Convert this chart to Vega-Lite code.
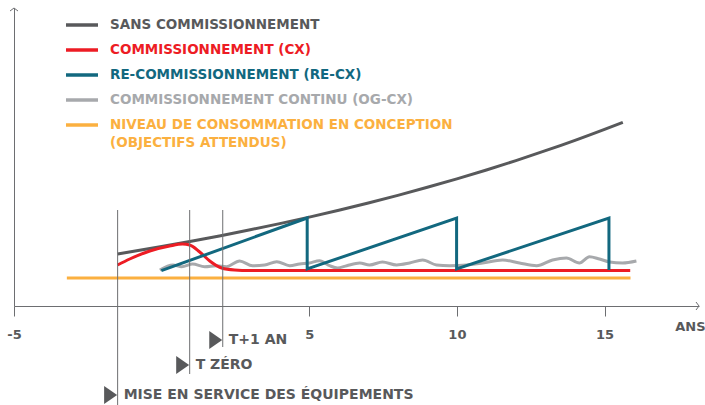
{
  "$schema": "https://vega.github.io/schema/vega-lite/v6.json",
  "width": 685,
  "height": 298,
  "autosize": {"type": "none"},
  "padding": {"left": 14, "top": 8, "right": 6, "bottom": 99},
  "background": "white",
  "config": {"view": {"stroke": null}, "font": "DejaVu Sans"},
  "datasets": {
    "series": [
      {"s": "NIVEAU DE CONSOMMATION EN CONCEPTION (OBJECTIFS ATTENDUS)", "i": 0, "x": -3.21, "y": 28},
      {"s": "NIVEAU DE CONSOMMATION EN CONCEPTION (OBJECTIFS ATTENDUS)", "i": 1, "x": 15.88, "y": 28},
      {"s": "SANS COMMISSIONNEMENT", "i": 0, "x": -1.49, "y": 52},
      {"s": "SANS COMMISSIONNEMENT", "i": 1, "x": 0, "y": 59.4},
      {"s": "SANS COMMISSIONNEMENT", "i": 2, "x": 1, "y": 64.7},
      {"s": "SANS COMMISSIONNEMENT", "i": 3, "x": 2, "y": 70.3},
      {"s": "SANS COMMISSIONNEMENT", "i": 4, "x": 3, "y": 76.2},
      {"s": "SANS COMMISSIONNEMENT", "i": 5, "x": 4, "y": 82.4},
      {"s": "SANS COMMISSIONNEMENT", "i": 6, "x": 5, "y": 88.9},
      {"s": "SANS COMMISSIONNEMENT", "i": 7, "x": 6, "y": 95.8},
      {"s": "SANS COMMISSIONNEMENT", "i": 8, "x": 7, "y": 103.0},
      {"s": "SANS COMMISSIONNEMENT", "i": 9, "x": 8, "y": 110.6},
      {"s": "SANS COMMISSIONNEMENT", "i": 10, "x": 9, "y": 118.7},
      {"s": "SANS COMMISSIONNEMENT", "i": 11, "x": 10, "y": 127.1},
      {"s": "SANS COMMISSIONNEMENT", "i": 12, "x": 11, "y": 136.0},
      {"s": "SANS COMMISSIONNEMENT", "i": 13, "x": 12, "y": 145.4},
      {"s": "SANS COMMISSIONNEMENT", "i": 14, "x": 13, "y": 155.3},
      {"s": "SANS COMMISSIONNEMENT", "i": 15, "x": 14, "y": 165.7},
      {"s": "SANS COMMISSIONNEMENT", "i": 16, "x": 15, "y": 176.7},
      {"s": "SANS COMMISSIONNEMENT", "i": 17, "x": 15.62, "y": 183.7},
      {"s": "COMMISSIONNEMENT CONTINU (OG-CX)", "i": 0, "x": -0.06, "y": 36},
      {"s": "COMMISSIONNEMENT CONTINU (OG-CX)", "i": 1, "x": 0.38, "y": 41},
      {"s": "COMMISSIONNEMENT CONTINU (OG-CX)", "i": 2, "x": 0.68, "y": 39.3},
      {"s": "COMMISSIONNEMENT CONTINU (OG-CX)", "i": 3, "x": 1.05, "y": 42},
      {"s": "COMMISSIONNEMENT CONTINU (OG-CX)", "i": 4, "x": 1.46, "y": 39.3},
      {"s": "COMMISSIONNEMENT CONTINU (OG-CX)", "i": 5, "x": 1.87, "y": 40.3},
      {"s": "COMMISSIONNEMENT CONTINU (OG-CX)", "i": 6, "x": 2.2, "y": 39.3},
      {"s": "COMMISSIONNEMENT CONTINU (OG-CX)", "i": 7, "x": 2.64, "y": 45},
      {"s": "COMMISSIONNEMENT CONTINU (OG-CX)", "i": 8, "x": 3.08, "y": 40.3},
      {"s": "COMMISSIONNEMENT CONTINU (OG-CX)", "i": 9, "x": 3.49, "y": 41},
      {"s": "COMMISSIONNEMENT CONTINU (OG-CX)", "i": 10, "x": 3.9, "y": 44.3},
      {"s": "COMMISSIONNEMENT CONTINU (OG-CX)", "i": 11, "x": 4.34, "y": 40.3},
      {"s": "COMMISSIONNEMENT CONTINU (OG-CX)", "i": 12, "x": 4.67, "y": 42},
      {"s": "COMMISSIONNEMENT CONTINU (OG-CX)", "i": 13, "x": 5.01, "y": 43},
      {"s": "COMMISSIONNEMENT CONTINU (OG-CX)", "i": 14, "x": 5.35, "y": 45.3},
      {"s": "COMMISSIONNEMENT CONTINU (OG-CX)", "i": 15, "x": 5.69, "y": 40.3},
      {"s": "COMMISSIONNEMENT CONTINU (OG-CX)", "i": 16, "x": 5.96, "y": 38},
      {"s": "COMMISSIONNEMENT CONTINU (OG-CX)", "i": 17, "x": 6.27, "y": 40.3},
      {"s": "COMMISSIONNEMENT CONTINU (OG-CX)", "i": 18, "x": 6.71, "y": 43},
      {"s": "COMMISSIONNEMENT CONTINU (OG-CX)", "i": 19, "x": 7.04, "y": 41},
      {"s": "COMMISSIONNEMENT CONTINU (OG-CX)", "i": 20, "x": 7.48, "y": 44},
      {"s": "COMMISSIONNEMENT CONTINU (OG-CX)", "i": 21, "x": 7.96, "y": 41},
      {"s": "COMMISSIONNEMENT CONTINU (OG-CX)", "i": 22, "x": 8.4, "y": 43},
      {"s": "COMMISSIONNEMENT CONTINU (OG-CX)", "i": 23, "x": 8.84, "y": 46},
      {"s": "COMMISSIONNEMENT CONTINU (OG-CX)", "i": 24, "x": 9.31, "y": 41},
      {"s": "COMMISSIONNEMENT CONTINU (OG-CX)", "i": 25, "x": 9.75, "y": 40.3},
      {"s": "COMMISSIONNEMENT CONTINU (OG-CX)", "i": 26, "x": 10.33, "y": 41},
      {"s": "COMMISSIONNEMENT CONTINU (OG-CX)", "i": 27, "x": 10.87, "y": 43},
      {"s": "COMMISSIONNEMENT CONTINU (OG-CX)", "i": 28, "x": 11.55, "y": 46},
      {"s": "COMMISSIONNEMENT CONTINU (OG-CX)", "i": 29, "x": 12.12, "y": 43},
      {"s": "COMMISSIONNEMENT CONTINU (OG-CX)", "i": 30, "x": 12.7, "y": 40.3},
      {"s": "COMMISSIONNEMENT CONTINU (OG-CX)", "i": 31, "x": 13.24, "y": 46},
      {"s": "COMMISSIONNEMENT CONTINU (OG-CX)", "i": 32, "x": 13.71, "y": 48},
      {"s": "COMMISSIONNEMENT CONTINU (OG-CX)", "i": 33, "x": 14.15, "y": 43},
      {"s": "COMMISSIONNEMENT CONTINU (OG-CX)", "i": 34, "x": 14.49, "y": 49.3},
      {"s": "COMMISSIONNEMENT CONTINU (OG-CX)", "i": 35, "x": 14.83, "y": 47},
      {"s": "COMMISSIONNEMENT CONTINU (OG-CX)", "i": 36, "x": 15.17, "y": 44},
      {"s": "COMMISSIONNEMENT CONTINU (OG-CX)", "i": 37, "x": 15.61, "y": 43},
      {"s": "COMMISSIONNEMENT CONTINU (OG-CX)", "i": 38, "x": 16.08, "y": 45},
      {"s": "COMMISSIONNEMENT (CX)", "i": 0, "x": -1.49, "y": 41},
      {"s": "COMMISSIONNEMENT (CX)", "i": 1, "x": -1.08, "y": 47},
      {"s": "COMMISSIONNEMENT (CX)", "i": 2, "x": -0.4, "y": 55},
      {"s": "COMMISSIONNEMENT (CX)", "i": 3, "x": 0.27, "y": 60},
      {"s": "COMMISSIONNEMENT (CX)", "i": 4, "x": 0.71, "y": 62},
      {"s": "COMMISSIONNEMENT (CX)", "i": 5, "x": 0.95, "y": 61},
      {"s": "COMMISSIONNEMENT (CX)", "i": 6, "x": 1.29, "y": 54},
      {"s": "COMMISSIONNEMENT (CX)", "i": 7, "x": 1.63, "y": 45},
      {"s": "COMMISSIONNEMENT (CX)", "i": 8, "x": 2.03, "y": 38},
      {"s": "COMMISSIONNEMENT (CX)", "i": 9, "x": 2.47, "y": 36},
      {"s": "COMMISSIONNEMENT (CX)", "i": 10, "x": 2.98, "y": 35.5},
      {"s": "COMMISSIONNEMENT (CX)", "i": 11, "x": 15.87, "y": 35.5}
    ],
    "recx": [
      {"s": "RE-COMMISSIONNEMENT (RE-CX)", "i": 0, "x": -0.01, "y": 35.3},
      {"s": "RE-COMMISSIONNEMENT (RE-CX)", "i": 1, "x": 4.93, "y": 88},
      {"s": "RE-COMMISSIONNEMENT (RE-CX)", "i": 2, "x": 4.93, "y": 37},
      {"s": "RE-COMMISSIONNEMENT (RE-CX)", "i": 3, "x": 9.99, "y": 88},
      {"s": "RE-COMMISSIONNEMENT (RE-CX)", "i": 4, "x": 9.99, "y": 37},
      {"s": "RE-COMMISSIONNEMENT (RE-CX)", "i": 5, "x": 15.15, "y": 88},
      {"s": "RE-COMMISSIONNEMENT (RE-CX)", "i": 6, "x": 15.15, "y": 36}
    ],
    "events": [
      {"e": "MISE EN SERVICE DES ÉQUIPEMENTS", "x": -1.49, "top": 96, "bottom": -100, "ly": -89},
      {"e": "T ZÉRO", "x": 0.95, "top": 96, "bottom": -68, "ly": -59},
      {"e": "T+1 AN", "x": 2.07, "top": 96, "bottom": -41, "ly": -34}
    ]
  },
  "layer": [
    {
      "data": {"name": "series"},
      "mark": {"type": "line", "interpolate": "monotone", "strokeWidth": 3, "strokeCap": "butt"},
      "encoding": {
        "x": {
          "field": "x", "type": "quantitative",
          "scale": {"domain": [-5, 18.2], "nice": false, "zero": false},
          "axis": {
            "values": [-5, 5, 10, 15], "grid": false,
            "labelExpr": "replace(datum.label, '\u2212', '-')",
            "domainColor": "#6d6e71", "domainWidth": 1,
            "tickColor": "#6d6e71", "tickSize": 10, "tickWidth": 1,
            "labelFont": "DejaVu Sans", "labelFontSize": 13, "labelFontWeight": "bold",
            "labelColor": "#58595b", "labelPadding": 12, "labelFlush": false,
            "title": "ANS", "titleX": 691, "titleY": 20, "titleAlign": "right",
            "titleBaseline": "middle", "titleFont": "DejaVu Sans", "titleFontSize": 13,
            "titleFontWeight": "bold", "titleColor": "#58595b"
          }
        },
        "y": {
          "field": "y", "type": "quantitative",
          "scale": {"domain": [0, 298], "nice": false, "zero": false},
          "axis": {"grid": false, "ticks": false, "labels": false, "title": null, "domainColor": "#6d6e71", "domainWidth": 1}
        },
        "color": {
          "field": "s", "type": "nominal",
          "scale": {
            "domain": ["SANS COMMISSIONNEMENT", "COMMISSIONNEMENT (CX)", "RE-COMMISSIONNEMENT (RE-CX)", "COMMISSIONNEMENT CONTINU (OG-CX)", "NIVEAU DE CONSOMMATION EN CONCEPTION (OBJECTIFS ATTENDUS)"],
            "range": ["#58595b", "#ed1c24", "#12687f", "#a7a9ac", "#fbb040"]
          },
          "legend": {
            "orient": "none", "legendX": 50, "legendY": -1, "title": null,
            "symbolType": "stroke", "symbolSize": 1024, "symbolStrokeWidth": 3.5,
            "labelFont": "DejaVu Sans", "labelFontSize": 13.5, "labelFontWeight": "bold",
            "labelOffset": 10, "labelLimit": 600, "rowPadding": 0,
            "labelExpr": "datum.label == 'NIVEAU DE CONSOMMATION EN CONCEPTION (OBJECTIFS ATTENDUS)' ? ['NIVEAU DE CONSOMMATION EN CONCEPTION', '(OBJECTIFS ATTENDUS)'] : datum.label",
            "encode": {"labels": {"update": {"fill": {"signal": "scale('color', datum.value)"}, "lineHeight": {"value": 18}}}}
          }
        },
        "order": {"field": "i", "type": "quantitative"}
      }
    },
    {
      "data": {"name": "recx"},
      "mark": {"type": "line", "strokeWidth": 3, "strokeJoin": "miter"},
      "encoding": {
        "x": {"field": "x", "type": "quantitative"},
        "y": {"field": "y", "type": "quantitative"},
        "color": {"field": "s", "type": "nominal"},
        "order": {"field": "i", "type": "quantitative"}
      }
    },
    {
      "data": {"name": "events"},
      "mark": {"type": "rule", "color": "#6d6e71", "strokeWidth": 1},
      "encoding": {
        "x": {"field": "x", "type": "quantitative"},
        "y": {"field": "top", "type": "quantitative"},
        "y2": {"field": "bottom"}
      }
    },
    {
      "data": {"name": "events"},
      "mark": {"type": "point", "shape": "M-0.72,-1L0.72,0L-0.72,1Z", "size": 324, "filled": true, "color": "#58595b", "opacity": 1, "xOffset": -7},
      "encoding": {
        "x": {"field": "x", "type": "quantitative"},
        "y": {"field": "ly", "type": "quantitative"}
      }
    },
    {
      "data": {"name": "events"},
      "mark": {"type": "text", "align": "left", "baseline": "middle", "dx": 6, "font": "DejaVu Sans", "fontSize": 14, "fontWeight": "bold", "color": "#58595b"},
      "encoding": {
        "x": {"field": "x", "type": "quantitative"},
        "y": {"field": "ly", "type": "quantitative"},
        "text": {"field": "e"}
      }
    },
    {
      "data": {"values": [{"x": 18.2, "y": 0}]},
      "mark": {"type": "point", "shape": "M-0.75,-1L0,0L-0.75,1", "size": 64, "filled": false, "color": "#6d6e71", "strokeWidth": 1, "opacity": 1},
      "encoding": {
        "x": {"field": "x", "type": "quantitative"},
        "y": {"field": "y", "type": "quantitative"}
      }
    },
    {
      "data": {"values": [{"x": -5, "y": 298}]},
      "mark": {"type": "point", "shape": "M-1,0.75L0,0L1,0.75", "size": 64, "filled": false, "color": "#6d6e71", "strokeWidth": 1, "opacity": 1},
      "encoding": {
        "x": {"field": "x", "type": "quantitative"},
        "y": {"field": "y", "type": "quantitative"}
      }
    }
  ]
}
